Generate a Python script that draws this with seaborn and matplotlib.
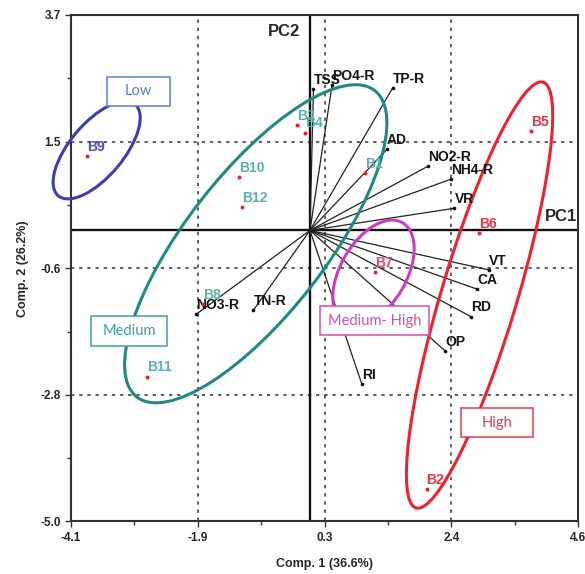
import numpy as np
import seaborn as sns
import matplotlib.pyplot as plt
from matplotlib.patches import Ellipse, Rectangle

# sample scores on the first two components
sample_names = ['B1', 'B2', 'B3', 'B4', 'B5', 'B6', 'B7', 'B8', 'B9', 'B10', 'B11', 'B12']
sample_pc1 = [0.94, 2.00, -0.22, -0.08, 3.80, 2.90, 1.11, -1.83, -3.82, -1.21, -2.80, -1.17]
sample_pc2 = [0.98, -4.44, 1.81, 1.68, 1.71, -0.04, -0.71, -1.27, 1.28, 0.92, -2.51, 0.40]
sample_group = ['Medium', 'High', 'Medium', 'Medium', 'High', 'High', 'Medium- High',
                'Medium', 'Low', 'Medium', 'Medium', 'Medium']

# variable loadings (vector end points)
var_names = ['TSS', 'PO4-R', 'TP-R', 'AD', 'NO2-R', 'NH4-R', 'VR', 'VT', 'CA', 'RD', 'OP', 'RI',
             'NO3-R', 'TN-R']
var_pc1 = [0.06, 0.38, 1.42, 1.32, 2.02, 2.42, 2.48, 3.07, 2.87, 2.76, 2.32, 0.89, -1.95, -0.97]
var_pc2 = [2.43, 2.50, 2.45, 1.39, 1.10, 0.88, 0.38, -0.68, -1.01, -1.48, -2.07, -2.64, -1.44, -1.37]

x_ticks = np.linspace(-4.1, 4.6, 5)
y_ticks = np.linspace(-5.0, 3.7, 5)
x_tick_labels = ['-4.1', '-1.9', '0.3', '2.4', '4.6']
y_tick_labels = ['-5.0', '-2.8', '-0.6', '1.5', '3.7']

# colours for each group: ellipse, box / text, sample label
GROUP_STYLE = {
    'Low': dict(edge='#3b3fae', box='#5a7fd0', label='#4b4fb8'),
    'Medium': dict(edge='#1f8a82', box='#3d9fa0', label='#5cb0aa'),
    'Medium- High': dict(edge='#c83cc8', box='#d84cb4', label='#e2466e'),
    'High': dict(edge='#f0202e', box='#e83848', label='#e8344a'),
}
# ellipse (center x, center y, width, height, angle) and box (x0, y0, x1, y1)
ELLIPSES = {
    'Low': (-3.66, 1.38, 2.05, 0.92, 50),
    'Medium': (-0.93, -0.23, 6.66, 2.40, 52.2),
    'Medium- High': (1.09, -0.73, 1.99, 1.13, 60),
    'High': (2.91, -1.11, 7.63, 1.30, 73.4),
}
BOXES = {
    'Low': (-3.475, 2.14, -2.41, 2.64),
    'Medium': (-3.75, -1.985, -2.445, -1.47),
    'Medium- High': (0.18, -1.796, 2.035, -1.30),
    'High': (2.60, -3.55, 3.82, -3.05),
}

sns.set_style('white')
plt.rcParams['font.family'] = ['Liberation Sans', 'DejaVu Sans']

fig = plt.figure(figsize=(5.85, 5.74), dpi=100)
ax = fig.add_axes([0.1214, 0.0915, 0.8667, 0.8824])
ax.set_xlim(-4.1, 4.6)
ax.set_ylim(-5.0, 3.7)

# dotted grid at inner major ticks
for xv in x_ticks[1:-1]:
    ax.axvline(xv, color='#444444', lw=1.2, ls=(0, (2, 2.9)), zorder=1)
for yv in y_ticks[1:-1]:
    ax.axhline(yv, color='#444444', lw=1.2, ls=(0, (2, 2.9)), zorder=1)

# PC axes
ax.axhline(0, color='#111111', lw=1.7, zorder=2)
ax.axvline(0, color='#111111', lw=1.7, zorder=2)

# loading vectors
for vx, vy in zip(var_pc1, var_pc2):
    ax.plot([0, vx], [0, vy], color='#222222', lw=0.9, zorder=3)
sns.scatterplot(x=var_pc1, y=var_pc2, color='#111111', s=7, linewidth=0, ax=ax, zorder=4)
for name, vx, vy in zip(var_names, var_pc1, var_pc2):
    ax.annotate(name, (vx, vy), xytext=(0, 1.5), textcoords='offset points',
                ha='left', va='bottom', fontsize=10, fontweight='bold', color='#151515', zorder=6)

# group ellipses and boxes
for grp, (cx, cy, w, h, ang) in ELLIPSES.items():
    ax.add_patch(Ellipse((cx, cy), w, h, angle=ang, fill=False, lw=2.2,
                         edgecolor=GROUP_STYLE[grp]['edge'], zorder=5, clip_on=False))
for grp, (x0, y0, x1, y1) in BOXES.items():
    col = GROUP_STYLE[grp]['box']
    ax.add_patch(Rectangle((x0, y0), x1 - x0, y1 - y0, facecolor='white', edgecolor=col,
                           lw=1.1, zorder=7, clip_on=False))
    ax.text((x0 + x1) / 2, (y0 + y1) / 2, grp, ha='center', va='center', color=col,
            fontsize=10.5, family=['Lato', 'DejaVu Sans'], zorder=8)

# sample scores
sns.scatterplot(x=sample_pc1, y=sample_pc2, color='#e8202a', s=8, linewidth=0, ax=ax, zorder=6)
for name, sx, sy, grp in zip(sample_names, sample_pc1, sample_pc2, sample_group):
    ax.annotate(name, (sx, sy), xytext=(0, 1.5), textcoords='offset points',
                ha='left', va='bottom', fontsize=10, fontweight='bold',
                color=GROUP_STYLE[grp]['label'], zorder=6)

ax.text(-0.44, 3.41, 'PC2', ha='center', va='center', fontsize=12, fontweight='bold')
ax.text(4.30, 0.23, 'PC1', ha='center', va='center', fontsize=12, fontweight='bold')

ax.set_xticks(x_ticks)
ax.set_xticklabels(x_tick_labels)
ax.set_yticks(y_ticks)
ax.set_yticklabels(y_tick_labels)
ax.set_xticks((x_ticks[:-1] + x_ticks[1:]) / 2, minor=True)
ax.set_yticks((y_ticks[:-1] + y_ticks[1:]) / 2, minor=True)
ax.tick_params(which='major', direction='out', length=4, width=1, color='#333333',
               labelsize=8.5, bottom=True, left=True)
ax.tick_params(which='minor', direction='out', length=3, width=1, color='#333333',
               bottom=True, left=True)
for lbl in ax.get_xticklabels() + ax.get_yticklabels():
    lbl.set_fontweight('bold')

ax.set_xlabel('Comp. 1 (36.6%)', fontsize=9, fontweight='bold', labelpad=10)
ax.set_ylabel('Comp. 2 (26.2%)', fontsize=9, fontweight='bold', labelpad=8)

for sp in ax.spines.values():
    sp.set_color('#333333')
    sp.set_linewidth(1.5)

plt.savefig('out.png', dpi=100)
